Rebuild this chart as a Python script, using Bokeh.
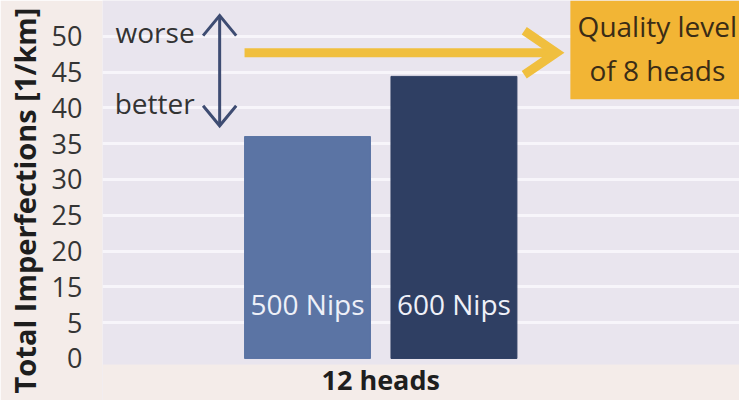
import numpy as np
from bokeh.plotting import figure
from bokeh.models import Range1d, FixedTicker, Label, BoxAnnotation
from bokeh.core.properties import value
from bokeh.embed import file_html
from bokeh.resources import INLINE

# ---- data ----
categories = ["500 Nips", "600 Nips"]
group_label = "12 heads"
values = [36.0, 44.4]                 # Total imperfections [1/km]
bar_colors = ["#5b74a4", "#2f3f63"]
tick_labels = ["0", "5", "15", "20", "25", "30", "35", "40", "45", "50"]
quality_level_8_heads = 47.7          # level marked by the yellow arrow

# The reference axis has evenly spaced ticks whose labels skip "10":
tick_numbers = [float(t) for t in tick_labels]
tick_positions = [5 * i for i in range(len(tick_labels))]


def to_axis(v):
    return np.interp(v, tick_numbers, tick_positions)


FONT = "Open Sans"
OUTER = "#f4ece9"
xs = list(range(len(categories)))
y0, y1 = -5.87, 50.0          # frame covers the group-label strip too
plot_bottom = -0.84           # lower edge of the lavender plot area

p = figure(width=739, height=400, output_backend="svg", toolbar_location=None,
           x_range=Range1d(-1.40, 2.95), y_range=Range1d(y0, y1),
           min_border_left=102, min_border_right=0, min_border_top=0,
           min_border_bottom=0)
p.background_fill_color = "#e9e5ee"
p.border_fill_color = OUTER
p.outline_line_color = None

# strip under the plot area, in the page colour
p.add_layout(BoxAnnotation(top=plot_bottom, bottom=y0, fill_color=OUTER,
                           fill_alpha=1.0, line_color=None, level="underlay"))

# bars
p.vbar(x=xs, top=to_axis(values), bottom=0, width=0.86, color=bar_colors)
p.text(x=xs, y=[7.54] * len(xs), text=categories, text_align="center",
       text_baseline="middle", text_font=value(FONT),
       text_font_size="28px", text_color="#eef0f8")

# y axis
p.yaxis.ticker = FixedTicker(ticks=tick_positions)
p.yaxis.major_label_overrides = {pos: lab for pos, lab in zip(tick_positions, tick_labels)}
p.yaxis.major_label_text_font = FONT
p.yaxis.major_label_text_font_size = "27px"
p.yaxis.major_label_text_color = "#353535"
p.yaxis.major_label_standoff = 20
p.yaxis.axis_label = "Total Imperfections [1/km]"
p.yaxis.axis_label_text_font = FONT
p.yaxis.axis_label_text_font_style = "bold"
p.yaxis.axis_label_text_font_size = "29px"
p.yaxis.axis_label_text_color = "#1e1e1e"
p.yaxis.axis_label_standoff = 5
p.yaxis.axis_line_color = None
p.yaxis.major_tick_out = 0
p.yaxis.major_tick_in = 0
p.yaxis.minor_tick_out = 0
p.yaxis.minor_tick_in = 0
p.yaxis.major_tick_line_color = None
p.yaxis.minor_tick_line_color = None

# x axis hidden; the group name is written under the bars
p.xaxis.visible = False
grp_center = float(np.mean(xs))
p.add_layout(Label(x=grp_center, y=-2.93, text=group_label, text_align="center",
                   text_baseline="middle", text_font=FONT,
                   text_font_style="bold", text_font_size="27px",
                   text_color="#1e1e1e"))

# grid
p.xgrid.visible = False
p.ygrid.ticker = FixedTicker(ticks=tick_positions[1:])
p.ygrid.grid_line_color = "#f7f5fa"
p.ygrid.grid_line_width = 3

# worse / better double arrow
ax, a_top, a_bot = -0.60, 47.9, 32.5
hdx, hdy = 0.113, 2.8
navy = "#3e4c72"
p.segment(x0=[ax], y0=[a_top], x1=[ax], y1=[a_bot], line_color=navy, line_width=3)
p.multi_line(xs=[[ax - hdx, ax, ax + hdx], [ax - hdx, ax, ax + hdx]],
             ys=[[a_top - hdy, a_top, a_top - hdy], [a_bot + hdy, a_bot, a_bot + hdy]],
             line_color=navy, line_width=3, line_join="miter")
p.add_layout(Label(x=-0.771, y=45.67, text="worse", text_align="right",
                   text_baseline="middle", text_font=FONT,
                   text_font_size="28px", text_color="#333333"))
p.add_layout(Label(x=-0.771, y=35.75, text="better", text_align="right",
                   text_baseline="middle", text_font=FONT,
                   text_font_size="28px", text_color="#333333"))

# yellow arrow to the quality level of 8 heads
qy = float(to_axis(quality_level_8_heads))
gold = "#f0bf3e"
tip_x, arm_x, arm_dy = 1.70, 1.48, 3.07
p.segment(x0=[-0.43], y0=[qy], x1=[tip_x - 0.02], y1=[qy], line_color=gold, line_width=9)
p.multi_line(xs=[[arm_x, tip_x, arm_x]], ys=[[qy + arm_dy, qy, qy - arm_dy]],
             line_color=gold, line_width=9, line_join="miter")

p.add_layout(BoxAnnotation(left=1.795, right=2.95, top=50.0, bottom=36.2,
                           fill_color="#f2b535", fill_alpha=1.0, line_color=None))
p.add_layout(Label(x=2.389, y=46.37, text="Quality level", text_align="center",
                   text_baseline="middle", text_font=FONT,
                   text_font_size="28px", text_color="#3a2c16"))
p.add_layout(Label(x=2.389, y=40.36, text="of 8 heads", text_align="center",
                   text_baseline="middle", text_font=FONT,
                   text_font_size="28px", text_color="#3a2c16"))

open("out.html", "w").write(file_html(p, INLINE))
